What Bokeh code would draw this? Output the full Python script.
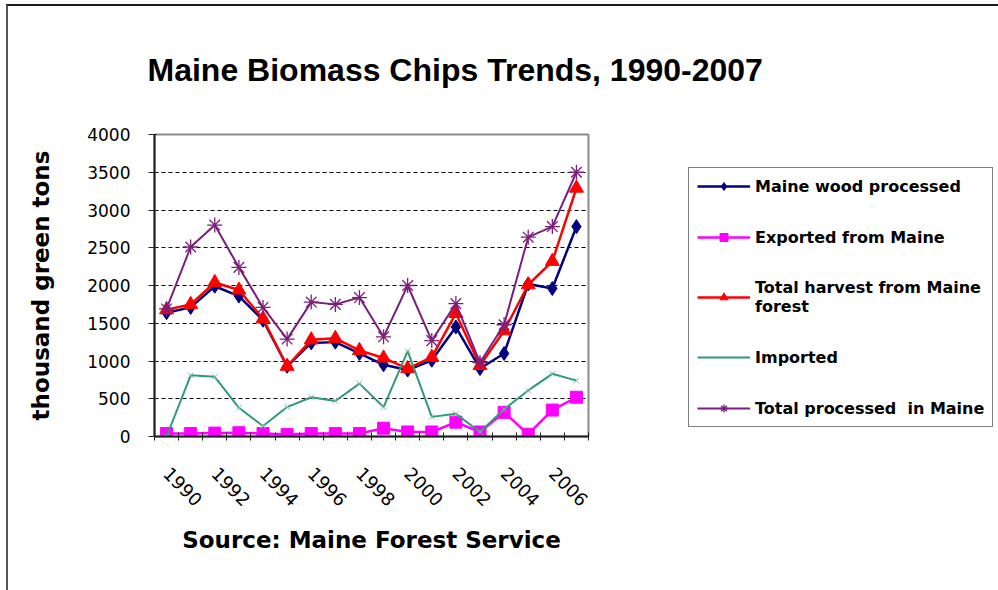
from bokeh.plotting import figure
from bokeh.models import Range1d, FixedTicker, Legend, LegendItem, Title
from bokeh.embed import file_html
from bokeh.resources import INLINE

# ---- data ----
years = list(range(1990, 2008))
maine_wood = [1640, 1710, 1990, 1860, 1540, 930, 1240, 1250, 1100, 950,
              880, 1010, 1450, 900, 1100, 2020, 1960, 2780]
exported = [40, 40, 45, 50, 40, 25, 40, 40, 40, 110,
            60, 60, 190, 60, 320, 30, 350, 520]
total_harvest = [1680, 1750, 2040, 1940, 1560, 930, 1280, 1300, 1140, 1040,
                 900, 1050, 1630, 940, 1400, 2010, 2320, 3290]
imported = [0, 810, 790, 380, 140, 390, 520, 470, 700, 390,
            1130, 260, 300, 60, 360, 610, 830, 740]
total_processed = [1690, 2510, 2800, 2240, 1710, 1290, 1780, 1750, 1840, 1320,
                   2000, 1270, 1760, 980, 1480, 2640, 2780, 3500]
label_years = [1990, 1992, 1994, 1996, 1998, 2000, 2002, 2004, 2006]
tick_labels = ["1990", "1992", "1994", "1996", "1998", "2000", "2002", "2004", "2006"]
y_ticks = [0, 500, 1000, 1500, 2000, 2500, 3000, 3500, 4000]
series_names = ["Maine wood processed", "Exported from Maine",
                "Total harvest from Maine\nforest", "Imported",
                "Total processed  in Maine"]
title_text = "Maine Biomass Chips Trends, 1990-2007"

W, H = 990, 584
p = figure(width=W, height=H, frame_width=434, frame_height=302,
           output_backend="svg", toolbar_location=None,
           x_range=Range1d(years[0] - 0.5, years[-1] + 0.5),
           y_range=Range1d(0, 4000),
           min_border_left=146, min_border_right=410,
           min_border_top=128, min_border_bottom=154)
p.styles = {"border-top": "2px solid #1a1a1a", "border-left": "2px solid #555555",
            "margin-top": "4px", "margin-left": "6px"}
xa = p.below[0]
ya = p.left[0]
p.title = None

p.add_layout(Title(text=title_text, text_font="Liberation Sans", text_font_size="32px",
                   text_font_style="bold", align="left", vertical_align="top",
                   offset=-7, standoff=90, text_color="black"), "above")

p.background_fill_color = "white"
p.border_fill_color = "white"
p.outline_line_color = "#8c8c8c"
p.outline_line_width = 2

# grid
p.xgrid.grid_line_color = None
p.ygrid.ticker = FixedTicker(ticks=y_ticks[1:-1])
p.ygrid.grid_line_color = "black"
p.ygrid.grid_line_dash = "4 3"
p.ygrid.grid_line_width = 1

# y axis
ya.ticker = FixedTicker(ticks=y_ticks)
ya.axis_line_color = "#222222"
ya.axis_line_width = 2
ya.major_tick_line_color = "#222222"
ya.major_tick_in = 2
ya.major_tick_out = 6
ya.minor_tick_line_color = None
ya.major_label_standoff = 18
ya.major_label_text_font = "DejaVu Sans"
ya.major_label_text_font_size = "17px"
ya.major_label_text_color = "black"
ya.axis_label = "thousand green tons"
ya.axis_label_text_font = "DejaVu Sans"
ya.axis_label_text_font_style = "bold"
ya.axis_label_text_font_size = "23px"
ya.axis_label_text_color = "black"
ya.axis_label_standoff = 30

# x axis
xa.ticker = FixedTicker(ticks=label_years,
                        minor_ticks=[y - 0.5 for y in years] + [years[-1] + 0.5])
xa.major_label_overrides = {y: t for y, t in zip(label_years, tick_labels)}
xa.major_label_orientation = -0.785398
xa.axis_line_color = "#222222"
xa.axis_line_width = 2
xa.major_tick_line_color = None
xa.minor_tick_line_color = "#222222"
xa.minor_tick_in = 4
xa.minor_tick_out = 4
xa.major_label_standoff = 28
xa.major_label_text_font = "DejaVu Sans"
xa.major_label_text_font_size = "18px"
xa.major_label_text_color = "black"
xa.axis_label = "Source: Maine Forest Service"
xa.axis_label_text_font = "DejaVu Sans"
xa.axis_label_text_font_style = "bold"
xa.axis_label_text_font_size = "23px"
xa.axis_label_text_color = "black"
xa.axis_label_standoff = 12

# series
navy, magenta, red, teal, purple = "#000080", "#FF00FF", "#FF0000", "#2E9A78", "#7B1F7B"
styles = [
    (navy, dict(marker="diamond", size=14, fill_color=navy, line_color=navy), 2.5),
    (magenta, dict(marker="square", size=12, fill_color=magenta, line_color=magenta), 2.5),
    (red, dict(marker="triangle", size=14, fill_color=red, line_color=red), 2.5),
    (teal, dict(marker="x", size=8, line_color="#7fbf9f", line_width=1), 2),
    (purple, dict(marker="asterisk", size=15, line_color=purple, line_width=1.3), 2),
]
series = [maine_wood, exported, total_harvest, imported, total_processed]
items = []
for i, (vals, (col, mk, lw)) in enumerate(zip(series, styles)):
    lr = p.line(years, vals, line_color=col, line_width=lw)
    sr = p.scatter(years, vals, **mk)
    rs = [lr] if i == 3 else [lr, sr]
    items.append(LegendItem(label=series_names[i], renderers=rs))

legend = Legend(items=items, location=(100, 9))
legend.label_text_font = "DejaVu Sans"
legend.label_text_font_style = "bold"
legend.label_text_font_size = "16px"
legend.label_text_color = "black"
legend.glyph_width = 53
legend.glyph_height = 20
legend.label_standoff = 5
legend.spacing = 31
legend.padding = 8
legend.margin = 0
legend.border_line_color = "black"
legend.border_line_width = 1
legend.background_fill_color = "white"
legend.background_fill_alpha = 1
p.add_layout(legend, "right")

html = file_html(p, INLINE)
open("out.html", "w").write(html)
